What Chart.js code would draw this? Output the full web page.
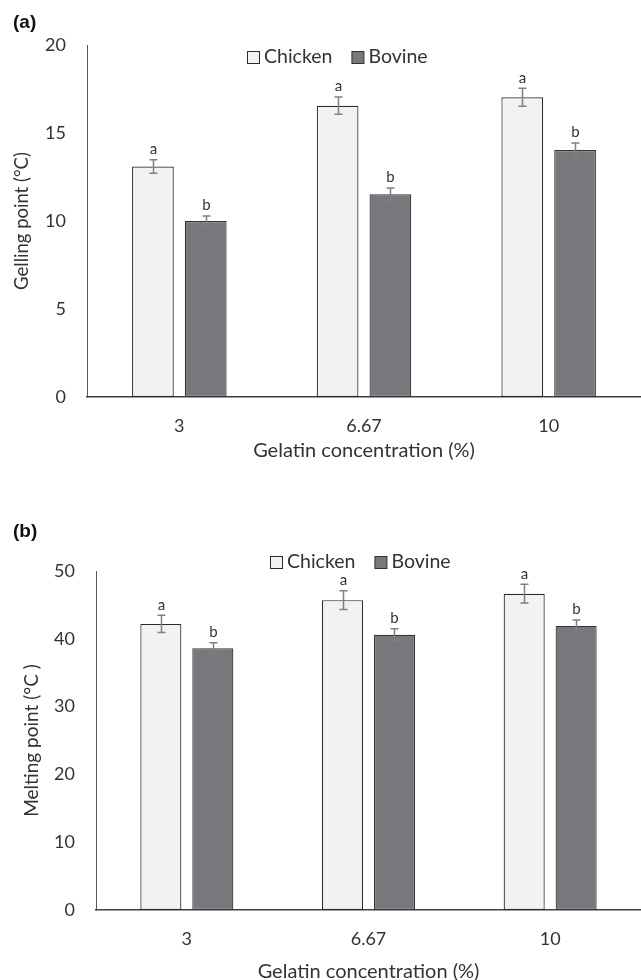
<!DOCTYPE html>
<html>
<head>
<meta charset="utf-8">
<script src="https://cdn.jsdelivr.net/npm/chart.js@4.4.1/dist/chart.umd.min.js"></script>
<style>
  html, body { margin: 0; padding: 0; background: #ffffff; width: 641px; height: 980px; overflow: hidden; }
  .panel { position: absolute; left: 0; }
  #wrapA { top: 0; }
  #wrapB { top: 490px; }
</style>
</head>
<body>
<div class="panel" id="wrapA"><canvas id="chartA" width="641" height="470"></canvas></div>
<div class="panel" id="wrapB"><canvas id="chartB" width="641" height="494"></canvas></div>
<script>
// ---------- DATA ----------
const categories = ['3', '6.67', '10'];
const seriesNames = ['Chicken', 'Bovine'];

const gellingChicken = [13.1, 16.55, 17.03];
const gellingChickenErr = [0.38, 0.49, 0.51];
const gellingBovine = [10.0, 11.52, 14.03];
const gellingBovineErr = [0.28, 0.36, 0.40];

const meltingChicken = [42.2, 45.7, 46.65];
const meltingChickenErr = [1.28, 1.37, 1.38];
const meltingBovine = [38.6, 40.6, 41.9];
const meltingBovineErr = [0.8, 0.88, 0.88];

const chickenLetters = ['a', 'a', 'a'];
const bovineLetters = ['b', 'b', 'b'];

const gellingTicks = [0, 5, 10, 15, 20];
const meltingTicks = [0, 10, 20, 30, 40, 50];

// ---------- STYLE ----------
const FONT = 'Lato, "Open Sans", sans-serif';
const TEXT = '#333333';
const chickenFill = '#F1F2F4';
const chickenBorder = '#2b2b2b';
const bovineFill = '#77787B';
const bovineBorder = '#333333';
const errColor = '#808080';

const overlayPlugin = {
  id: 'overlay',
  afterDatasetsDraw(chart, args, opts) {
    const ctx = chart.ctx;
    const y = chart.scales.y;
    ctx.save();
    chart.data.datasets.forEach((ds, i) => {
      const meta = chart.getDatasetMeta(i);
      meta.data.forEach((bar, j) => {
        const v = ds.data[j], e = ds.errors[j];
        const yt = y.getPixelForValue(v + e);
        const yb = y.getPixelForValue(v - e);
        const x = Math.round(bar.x) + 0.5;
        ctx.strokeStyle = errColor;
        ctx.lineWidth = 1.5;
        ctx.beginPath();
        ctx.moveTo(x, yt); ctx.lineTo(x, yb);
        ctx.moveTo(x - 4, yt); ctx.lineTo(x + 4, yt);
        ctx.moveTo(x - 4, yb); ctx.lineTo(x + 4, yb);
        ctx.stroke();
        ctx.fillStyle = TEXT;
        ctx.font = '15px ' + FONT;
        ctx.textAlign = 'center';
        ctx.textBaseline = 'bottom';
        ctx.fillText(ds.letters[j], x, yt - 3);
      });
    });
    ctx.restore();
  },
  afterDraw(chart, args, opts) {
    const ctx = chart.ctx;
    ctx.save();
    ctx.fillStyle = '#111111';
    ctx.font = 'bold 19px "Liberation Sans", Arial, sans-serif';
    ctx.textAlign = 'left';
    ctx.textBaseline = 'middle';
    ctx.fillText(opts.panel, 13, opts.panelY);
    let x = opts.legendX;
    const cy = opts.legendY;
    ctx.font = '19.5px ' + FONT;
    chart.data.datasets.forEach((ds) => {
      ctx.fillStyle = ds.backgroundColor;
      ctx.strokeStyle = ds.borderColor;
      ctx.lineWidth = 1;
      ctx.fillRect(x + 0.5, cy - 6 + 0.5, 12, 12);
      ctx.strokeRect(x + 0.5, cy - 6 + 0.5, 12, 12);
      ctx.fillStyle = TEXT;
      ctx.textAlign = 'left';
      ctx.textBaseline = 'middle';
      ctx.fillText(ds.label, x + 17, cy);
      x += 17 + ctx.measureText(ds.label).width + 19;
    });
    ctx.restore();
  }
};

function makeChart(id, cfg) {
  return new Chart(document.getElementById(id), {
    type: 'bar',
    data: {
      labels: categories,
      datasets: [
        {
          label: seriesNames[0], data: cfg.chicken, errors: cfg.chickenErr, letters: chickenLetters,
          backgroundColor: chickenFill, borderColor: chickenBorder, borderWidth: 1.2, borderSkipped: false,
          categoryPercentage: 0.572, barPercentage: 0.79
        },
        {
          label: seriesNames[1], data: cfg.bovine, errors: cfg.bovineErr, letters: bovineLetters,
          backgroundColor: bovineFill, borderColor: bovineBorder, borderWidth: 1.2, borderSkipped: false,
          categoryPercentage: 0.572, barPercentage: 0.79
        }
      ]
    },
    options: {
      responsive: false,
      animation: false,
      devicePixelRatio: 1,
      layout: { padding: { top: cfg.padTop, right: 0, left: 0, bottom: 0 } },
      plugins: {
        legend: { display: false },
        tooltip: { enabled: false },
        overlay: { panel: cfg.panel, panelY: cfg.panelY, legendX: cfg.legendX, legendY: cfg.legendY }
      },
      scales: {
        x: {
          grid: { display: false, drawTicks: false },
          border: { display: true, color: '#404040', width: 1.5 },
          ticks: { color: TEXT, font: { family: FONT, size: 18 }, padding: 18 },
          title: { display: true, text: 'Gelatin concentration (%)', color: TEXT,
                   font: { family: FONT, size: 20 }, padding: { top: 0, bottom: cfg.xTitlePad } },
          afterFit: (s) => { s.height = cfg.xHeight; }
        },
        y: {
          min: 0, max: cfg.ticks[cfg.ticks.length - 1],
          afterBuildTicks: (s) => { s.ticks = cfg.ticks.map(v => ({ value: v })); },
          grid: { display: false, drawTicks: false },
          border: { display: true, color: '#595959', width: 1 },
          ticks: { color: TEXT, font: { family: FONT, size: 18 }, padding: 21 },
          title: { display: true, text: cfg.yTitle, color: TEXT,
                   font: { family: FONT, size: cfg.yTitleSize }, padding: { top: cfg.yTitlePad, bottom: 0 } },
          afterFit: (s) => { s.width = cfg.yWidth; }
        }
      }
    },
    plugins: [overlayPlugin]
  });
}

makeChart('chartA', {
  chicken: gellingChicken, chickenErr: gellingChickenErr,
  bovine: gellingBovine, bovineErr: gellingBovineErr,
  ticks: gellingTicks, yTitle: 'Gelling point (°C)', yTitleSize: 18.5,
  padTop: 45, xHeight: 73, xTitlePad: 7, yWidth: 87, yTitlePad: 11,
  panel: '(a)', panelY: 23, legendX: 247, legendY: 57
});

makeChart('chartB', {
  chicken: meltingChicken, chickenErr: meltingChickenErr,
  bovine: meltingBovine, bovineErr: meltingBovineErr,
  ticks: meltingTicks, yTitle: 'Melting point (°C )', yTitleSize: 19,
  padTop: 81, xHeight: 74, xTitlePad: 0, yWidth: 96, yTitlePad: 20,
  panel: '(b)', panelY: 42, legendX: 270, legendY: 72
});
</script>
</body>
</html>
